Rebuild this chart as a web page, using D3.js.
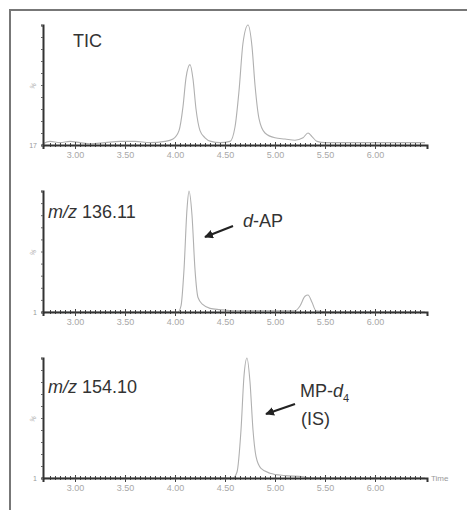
<!DOCTYPE html>
<html>
<head>
<meta charset="utf-8">
<script src="https://cdn.jsdelivr.net/npm/d3@7"></script>
<style>
  body { margin: 0; background: #fff; }
  text { font-family: "Liberation Sans", Arial, sans-serif; }
</style>
</head>
<body>
<svg id="mySvg"></svg>
<script>
// chromatogram traces: retention time (min) and relative intensity (%)
let ticTime = [2.68, 2.75, 2.85, 2.95, 3.05, 3.15, 3.30, 3.45, 3.60, 3.75, 3.90, 3.98, 4.04, 4.08, 4.11, 4.15, 4.18, 4.21, 4.25, 4.30, 4.36, 4.45, 4.55, 4.60, 4.64, 4.68, 4.73, 4.77, 4.80, 4.84, 4.90, 5.00, 5.10, 5.20, 5.28, 5.33, 5.37, 5.42, 5.50, 5.70, 5.90, 6.10, 6.30, 6.50];
let ticValue = [1, 3, 2, 3, 2, 1, 2, 3, 3, 2, 3, 5, 12, 32, 56, 67, 55, 30, 12, 6, 3, 2, 3, 15, 45, 85, 100, 82, 50, 22, 10, 6, 5, 4, 6, 10, 7, 3, 2, 2, 2, 2, 2, 2];

let apTime = [2.68, 3.50, 4.03, 4.06, 4.09, 4.12, 4.14, 4.17, 4.20, 4.23, 4.28, 4.35, 4.45, 4.60, 5.20, 5.25, 5.30, 5.33, 5.37, 5.41, 5.60, 6.50];
let apValue = [0, 0, 0, 5, 35, 85, 100, 80, 35, 12, 6, 3, 2, 1, 1, 5, 13, 14, 8, 1, 0, 0];

let isTime = [2.68, 4.58, 4.62, 4.66, 4.69, 4.72, 4.75, 4.78, 4.81, 4.86, 4.95, 5.10, 5.28, 5.35, 6.50];
let isValue = [0, 0, 5, 40, 85, 100, 80, 40, 18, 8, 4, 2, 1, 0, 0];

let timeTicks = [3.00, 3.50, 4.00, 4.50, 5.00, 5.50, 6.00];
let tickLabels = ["3.00", "3.50", "4.00", "4.50", "5.00", "5.50", "6.00"];

let svgWidth = 467, svgHeight = 510;

let svg = d3.select("#mySvg")
    .attr("width", svgWidth)
    .attr("height", svgHeight)

// frame
svg.append("path")
    .attr("d", "M10," + svgHeight + " V10 H" + svgWidth)
    .attr("fill", "none")
    .attr("stroke", "#777")
    .attr("stroke-width", 2)

let xScale = d3.scaleLinear()
    .domain([2.68, 6.52])
    .range([43, 427])

let panels = [
    { time: ticTime, value: ticValue, top: 25, base: 145, yTop: "%", yBase: "17" },
    { time: apTime, value: apValue, top: 191, base: 312, yTop: "%", yBase: "1" },
    { time: isTime, value: isValue, top: 358, base: 478, yTop: "%", yBase: "1" }
]

panels.forEach(function (p, k) {
    let yScale = d3.scaleLinear()
        .domain([0, 100])
        .range([p.base, p.top])

    let g = svg.append("g")

    // trace
    let line = d3.line()
        .x(function (d) { return xScale(d[0]) })
        .y(function (d) { return yScale(d[1]) })
        .curve(d3.curveMonotoneX)

    g.append("path")
        .datum(p.time.map((t, i) => [t, p.value[i]]))
        .attr("d", line)
        .attr("fill", "none")
        .attr("stroke", "#b0b0b0")
        .attr("stroke-width", 1.1)

    // minor ticks on time axis (hatched look)
    let minor = d3.axisBottom(xScale)
        .tickValues(d3.range(55, 131).map(d => d / 20).filter(d => d > 2.7 && d < 6.5))
        .tickSize(2)
        .tickFormat("")
    g.append("g")
        .attr("transform", "translate(0," + p.base + ")")
        .call(minor)
        .call(s => s.select(".domain").remove())
        .selectAll("line").attr("stroke", "#444").attr("y1", -2)

    let major = d3.axisBottom(xScale)
        .tickValues(timeTicks)
        .tickSize(4)
        .tickPadding(3)
        .tickFormat((d, i) => tickLabels[i])
    let ax = g.append("g")
        .attr("transform", "translate(0," + p.base + ")")
        .call(major)
    ax.select(".domain").attr("stroke", "#333").attr("stroke-width", 2)
    ax.selectAll("line").attr("stroke", "#444").attr("y1", -3)
    ax.selectAll("text").attr("fill", "#a8a8a8").attr("font-size", 9)

    let yAxis = d3.axisLeft(yScale)
        .tickValues(d3.range(0, 101, 10))
        .tickSize(2)
        .tickFormat("")
    let ay = g.append("g")
        .attr("transform", "translate(43,0)")
        .call(yAxis)
    ay.select(".domain").attr("stroke", "#333").attr("stroke-width", 2)
    ay.selectAll("line").attr("stroke", "#666")

    g.append("text")
        .attr("x", 37)
        .attr("y", p.base + 3)
        .attr("text-anchor", "end")
        .attr("font-size", 7)
        .attr("fill", "#999")
        .text(p.yBase)

    g.append("text")
        .attr("transform", "translate(35," + (yScale(50) + 2) + ")rotate(-60)")
        .attr("text-anchor", "middle")
        .attr("font-size", 7)
        .attr("fill", "#aaa")
        .text(p.yTop)

    if (k == 2) {
        g.append("text")
            .attr("x", 431)
            .attr("y", p.base + 3)
            .attr("font-size", 8)
            .attr("fill", "#999")
            .text("Time")
    }
})

// panel labels
svg.append("text")
    .attr("x", 73)
    .attr("y", 47)
    .attr("font-size", 18)
    .attr("fill", "#333")
    .text("TIC")

let mz1 = svg.append("text")
    .attr("x", 48)
    .attr("y", 218)
    .attr("font-size", 18)
    .attr("fill", "#333")
mz1.append("tspan").attr("font-style", "italic").text("m/z")
mz1.append("tspan").text(" 136.11")

let mz2 = svg.append("text")
    .attr("x", 48)
    .attr("y", 393)
    .attr("font-size", 18)
    .attr("fill", "#333")
mz2.append("tspan").attr("font-style", "italic").text("m/z")
mz2.append("tspan").text(" 154.10")

let apLabel = svg.append("text")
    .attr("x", 243)
    .attr("y", 227)
    .attr("font-size", 18)
    .attr("fill", "#333")
apLabel.append("tspan").attr("font-style", "italic").text("d")
apLabel.append("tspan").text("-AP")

let isLabel = svg.append("text")
    .attr("x", 300)
    .attr("y", 397)
    .attr("font-size", 18)
    .attr("fill", "#333")
isLabel.append("tspan").text("MP-")
isLabel.append("tspan").attr("font-style", "italic").text("d")
isLabel.append("tspan").attr("font-size", 11).attr("dy", 5).text("4")

svg.append("text")
    .attr("x", 301)
    .attr("y", 425)
    .attr("font-size", 18)
    .attr("fill", "#333")
    .text("(IS)")

// arrows
svg.append("defs").append("marker")
    .attr("id", "head")
    .attr("viewBox", "0 0 10 10")
    .attr("refX", 9)
    .attr("refY", 5)
    .attr("markerWidth", 4)
    .attr("markerHeight", 4)
    .attr("orient", "auto")
    .append("path")
    .attr("d", "M0,0 L10,5 L0,10 z")
    .attr("fill", "#222")

svg.append("line")
    .attr("x1", 233).attr("y1", 226)
    .attr("x2", 205).attr("y2", 237)
    .attr("stroke", "#222")
    .attr("stroke-width", 2.2)
    .attr("marker-end", "url(#head)")

svg.append("line")
    .attr("x1", 295).attr("y1", 404)
    .attr("x2", 266).attr("y2", 414)
    .attr("stroke", "#222")
    .attr("stroke-width", 2.2)
    .attr("marker-end", "url(#head)")
</script>
</body>
</html>
